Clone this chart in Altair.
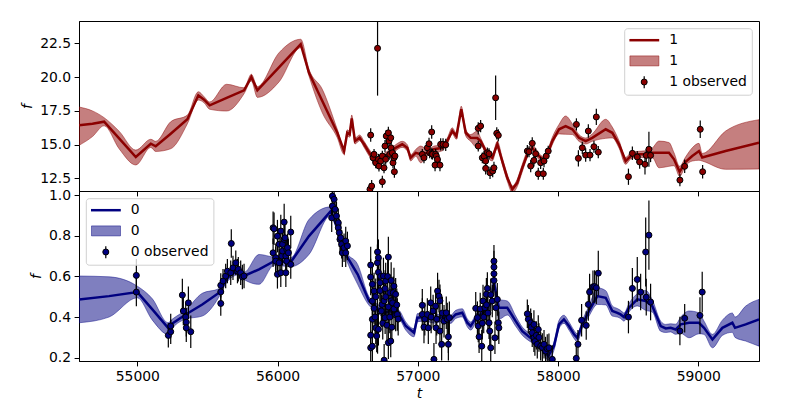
import altair as alt
import pandas as pd

# ---------------- data ----------------
X_DOMAIN = [54584, 59433]
X_TICKS = [55000, 56000, 57000, 58000, 59000]

TOP_DOMAIN = [11.575, 24.15]
TOP_TICKS = [12.5, 15.0, 17.5, 20.0, 22.5]
BOT_DOMAIN = [0.184, 1.02]
BOT_TICKS = [0.2, 0.4, 0.6, 0.8, 1.0]

# top (series "1") model curve
top_t = [54584, 54680, 54763, 54870, 54989, 55096, 55131, 55238, 55357, 55435,
         55476, 55516, 55637, 55761, 55813, 55856, 56010, 56165, 56224, 56319,
         56426, 56474, 56497, 56514, 56529, 56552, 56585, 56617, 56660, 56700,
         56760, 56800, 56842, 56889, 56925, 56949, 56985, 57021, 57068, 57115,
         57175, 57210, 57246, 57275, 57310, 57342, 57377, 57424, 57448, 57496,
         57531, 57567, 57602, 57638, 57674, 57709, 57745, 57781, 57816, 57852,
         57888, 57923, 57959, 58007, 58054, 58102, 58149, 58197, 58244, 58340,
         58387, 58435, 58482, 58518, 58565, 58625, 58672, 58720, 58791, 58827,
         58867, 58910, 58957, 59005, 59028, 59195, 59433]
top_mean = [16.43, 16.55, 16.70, 15.47, 14.09, 15.07, 14.88, 15.81, 16.88, 18.65,
            18.33, 17.91, 18.47, 19.02, 20.01, 19.02, 20.72, 22.43, 20.32, 18.23,
            15.88, 14.53, 15.88, 15.77, 16.95, 15.27, 15.51, 15.03, 14.30, 13.80,
            14.10, 14.40, 14.77, 15.03, 14.77, 14.03, 14.40, 14.29, 14.40, 14.66,
            14.77, 15.27, 16.01, 15.64, 17.62, 15.88, 15.51, 15.49, 15.27, 14.29,
            14.03, 15.03, 13.79, 12.55, 11.70, 12.18, 13.29, 14.29, 14.77, 14.29,
            13.92, 14.29, 15.27, 16.14, 16.38, 16.14, 15.51, 15.27, 15.51, 16.14,
            15.88, 15.03, 13.79, 14.16, 14.29, 14.29, 14.40, 14.40, 14.40, 13.92,
            12.99, 13.74, 14.16, 14.53, 14.06, 14.53, 15.14]
top_lo = [14.95, 15.60, 16.40, 14.70, 13.50, 14.80, 14.50, 14.70, 16.55, 18.30,
          18.10, 17.62, 17.49, 18.77, 19.71, 18.50, 19.64, 22.17, 20.08, 17.36,
          15.51, 14.29, 15.65, 15.55, 16.70, 15.05, 15.30, 14.80, 14.05, 13.55,
          13.85, 14.15, 14.55, 14.80, 14.55, 13.80, 14.15, 13.66, 14.15, 14.40,
          14.55, 15.05, 15.80, 15.40, 17.35, 15.65, 15.25, 14.77, 15.00, 14.05,
          13.80, 14.80, 13.55, 12.30, 11.45, 11.90, 13.00, 14.05, 14.55, 14.05,
          13.70, 14.05, 15.00, 15.80, 15.77, 15.75, 15.25, 15.05, 15.25, 15.47,
          15.50, 14.75, 13.55, 13.95, 14.05, 14.05, 14.05, 13.29, 13.40, 13.45,
          12.66, 13.45, 13.79, 13.85, 13.79, 13.18, 13.20]
top_hi = [17.79, 17.50, 17.00, 16.00, 14.60, 15.40, 15.25, 16.70, 17.19, 18.92,
          18.55, 18.16, 19.47, 19.21, 20.21, 19.30, 21.80, 22.80, 20.58, 19.10,
          16.14, 14.77, 16.10, 16.00, 17.20, 15.50, 15.72, 15.25, 14.55, 14.05,
          14.35, 14.65, 15.00, 15.25, 15.00, 14.25, 14.65, 14.90, 14.65, 14.90,
          15.00, 15.50, 16.25, 15.85, 17.85, 16.10, 15.75, 16.01, 15.50, 14.55,
          14.30, 15.25, 14.05, 12.80, 11.95, 12.45, 13.55, 14.55, 15.00, 14.55,
          14.15, 14.55, 15.55, 16.50, 17.12, 16.55, 15.75, 15.50, 15.80, 16.88,
          16.30, 15.30, 14.05, 14.40, 14.50, 14.55, 14.75, 15.27, 15.16, 14.40,
          13.40, 14.10, 14.77, 15.10, 14.35, 16.01, 16.85]

# top (series "1") observations
top_obs_t = [56659, 56664, 56671, 56681, 56688, 56700, 56713, 56719, 56723, 56735,
             56747, 56747, 56759, 56766, 56771, 56775, 56790, 56795, 56800, 56807,
             56809, 56818, 56823, 56830, 56833, 56837,
             57032, 57044, 57068, 57080, 57085, 57099, 57099, 57105, 57123, 57127,
             57132, 57140, 57158, 57163, 57180, 57199,
             57431, 57431, 57448, 57460, 57472, 57484, 57484, 57496, 57508, 57515,
             57534, 57543, 57555, 57563, 57574,
             57781, 57793, 57805, 57816, 57828, 57840, 57859, 57876, 57895, 57900,
             57916, 57930,
             58131, 58145, 58173, 58197, 58216, 58228, 58256, 58273, 58287,
             58502, 58530, 58565, 58582, 58620, 58629, 58648, 58660, 58869, 58903,
             59014, 59031]
top_obs_f = [11.70, 15.71, 11.94, 14.03, 14.29, 13.66, 22.13, 13.92, 13.42, 13.79,
             14.16, 12.26, 13.29, 14.90, 13.92, 15.64, 15.88, 15.27, 14.29, 15.51,
             14.77, 14.40, 13.66, 14.03, 13.00, 14.16,
             14.29, 14.03, 14.77, 15.07, 14.40, 15.94, 14.33, 14.30, 13.49, 14.29,
             14.16, 13.92, 13.49, 15.03, 15.03, 14.99,
             16.21, 14.90, 16.38, 14.03, 14.16, 13.79, 13.25, 14.40, 14.33, 12.92,
             13.05, 13.29, 18.47, 15.84, 15.69,
             14.53, 14.48, 13.42, 15.10, 13.84, 14.33, 12.85, 13.66, 12.85, 13.79,
             14.16, 14.53,
             16.50, 13.99, 14.77, 14.23, 16.01, 14.23, 14.85, 17.05, 14.45,
             12.63, 14.36, 14.09, 13.72, 13.55, 14.21, 14.66, 14.21, 12.38, 13.40,
             16.14, 13.00]
top_obs_err = [0.45, 0.50, 0.45, 0.40, 0.40, 0.40, 3.50, 0.40, 0.40, 0.40,
               0.40, 0.45, 0.40, 0.45, 0.40, 0.45, 0.45, 0.45, 0.40, 0.45,
               0.40, 0.40, 0.40, 0.40, 0.45, 0.40,
               0.40, 0.40, 0.45, 0.45, 0.40, 0.50, 0.40, 0.40, 0.45, 0.40,
               0.40, 0.40, 0.45, 0.45, 0.45, 0.45,
               0.45, 0.40, 0.45, 0.40, 0.40, 0.45, 0.45, 0.40, 0.40, 0.45,
               0.45, 0.45, 1.65, 0.45, 0.45,
               0.45, 0.40, 0.45, 0.45, 0.45, 0.40, 0.45, 0.45, 0.45, 0.45,
               0.40, 0.40,
               0.45, 0.60, 0.45, 0.50, 0.50, 0.45, 0.45, 0.60, 0.45,
               0.60, 0.50, 0.45, 0.50, 0.75, 0.45, 1.30, 0.50, 0.45, 0.50,
               0.65, 0.50]

# bottom (series "0") model curve
bot_t = [54584, 54798, 55000, 55107, 55219, 55250, 55345, 55463, 55583, 55630,
         55666, 55725, 55761, 55868, 55975, 56094, 56224, 56379, 56430, 56486,
         56571, 56652, 56700, 56760, 56800, 56866, 56914, 56973, 56997, 57050,
         57120, 57180, 57235, 57270, 57317, 57353, 57377, 57420, 57480, 57520,
         57543, 57578, 57638, 57698, 57745, 57800, 57850, 57888, 57930, 57971,
         58007, 58042, 58078, 58114, 58137, 58173, 58221, 58280, 58340, 58387,
         58423, 58446, 58470, 58506, 58565, 58625, 58672, 58732, 58768, 58803,
         58839, 58875, 58934, 59005, 59041, 59101, 59172, 59243, 59262, 59338,
         59433]
bot_mean = [0.487, 0.503, 0.523, 0.438, 0.347, 0.369, 0.413, 0.462, 0.520, 0.580,
            0.610, 0.626, 0.602, 0.635, 0.675, 0.670, 0.798, 0.921, 0.830, 0.708,
            0.610, 0.479, 0.450, 0.420, 0.430, 0.413, 0.356, 0.323, 0.397, 0.400,
            0.390, 0.400, 0.389, 0.413, 0.421, 0.372, 0.356, 0.400, 0.430, 0.470,
            0.569, 0.446, 0.446, 0.380, 0.331, 0.300, 0.280, 0.249, 0.208, 0.257,
            0.364, 0.389, 0.356, 0.315, 0.298, 0.364, 0.430, 0.503, 0.495, 0.430,
            0.421, 0.413, 0.400, 0.446, 0.487, 0.479, 0.454, 0.356, 0.344, 0.347,
            0.339, 0.364, 0.372, 0.372, 0.347, 0.290, 0.347, 0.372, 0.347, 0.364,
            0.389]
bot_lo = [0.372, 0.400, 0.495, 0.385, 0.315, 0.345, 0.390, 0.405, 0.500, 0.562,
          0.592, 0.608, 0.585, 0.561, 0.655, 0.648, 0.708, 0.900, 0.810, 0.690,
          0.561, 0.458, 0.430, 0.400, 0.410, 0.393, 0.336, 0.303, 0.377, 0.380,
          0.370, 0.380, 0.369, 0.393, 0.401, 0.352, 0.336, 0.380, 0.410, 0.450,
          0.549, 0.389, 0.410, 0.355, 0.311, 0.280, 0.260, 0.229, 0.188, 0.237,
          0.344, 0.369, 0.336, 0.295, 0.278, 0.344, 0.405, 0.462, 0.460, 0.405,
          0.400, 0.393, 0.380, 0.425, 0.455, 0.433, 0.425, 0.330, 0.324, 0.327,
          0.315, 0.320, 0.298, 0.318, 0.315, 0.249, 0.310, 0.325, 0.300, 0.282,
          0.257]
bot_hi = [0.602, 0.598, 0.552, 0.490, 0.372, 0.390, 0.435, 0.517, 0.540, 0.598,
          0.628, 0.644, 0.620, 0.708, 0.695, 0.692, 0.880, 0.942, 0.850, 0.726,
          0.659, 0.500, 0.470, 0.440, 0.450, 0.433, 0.376, 0.343, 0.417, 0.420,
          0.410, 0.420, 0.409, 0.433, 0.441, 0.392, 0.376, 0.420, 0.450, 0.490,
          0.589, 0.487, 0.479, 0.405, 0.351, 0.320, 0.300, 0.269, 0.228, 0.277,
          0.384, 0.409, 0.376, 0.335, 0.318, 0.384, 0.455, 0.544, 0.530, 0.455,
          0.442, 0.433, 0.420, 0.467, 0.515, 0.531, 0.485, 0.380, 0.364, 0.367,
          0.365, 0.400, 0.430, 0.421, 0.380, 0.315, 0.385, 0.420, 0.400, 0.454,
          0.487]

# bottom (series "0") observations
bot_obs_t = [54993, 54993, 55221, 55238, 55238, 55321, 55328, 55345, 55349, 55349,
             55364, 55381, 55595, 55595, 55595, 55611, 55630, 55642, 55666, 55670,
             55682, 55702, 55714, 55720, 55737, 55749, 55761,
             55968, 55968, 55975, 55987, 55987, 55999, 55999, 56011, 56011, 56023,
             56023, 56030, 56035, 56035, 56047, 56047, 56053, 56059, 56059, 56065,
             56065, 56071, 56077, 56094, 56094,
             56386, 56391, 56391, 56403, 56410, 56420, 56433, 56433, 56440, 56445,
             56450, 56457, 56462, 56474, 56486, 56486, 56498,
             56664, 56664, 56664, 56664, 56676, 56676, 56676, 56676, 56688, 56688,
             56695, 56700, 56700, 56707, 56713, 56712, 56719, 56719, 56719, 56731,
             56731, 56735, 56740, 56745, 56750, 56755, 56760, 56760, 56767, 56767,
             56771, 56771, 56780, 56785, 56790, 56790, 56790, 56800, 56800, 56807,
             56810, 56810, 56815, 56820, 56825, 56830, 56830, 56842, 56842, 56850,
             56854, 56860,
             57032, 57032, 57044, 57050, 57068, 57075, 57092, 57095, 57109, 57115,
             57127, 57130, 57135, 57141, 57151, 57158, 57158, 57170, 57175, 57187,
             57203, 57210, 57218, 57218, 57225,
             57413, 57425, 57431, 57437, 57445, 57456, 57460, 57465, 57470, 57479,
             57489, 57490, 57496, 57500, 57508, 57513, 57520, 57520, 57531, 57543,
             57543, 57543, 57543, 57550, 57557, 57567, 57574, 57578,
             57781, 57788, 57805, 57810, 57816, 57828, 57828, 57835, 57845, 57852,
             57859, 57864, 57876, 57888, 57900, 57911, 57923, 57935, 57959,
             58130, 58142, 58168, 58201, 58216, 58225, 58249, 58261, 58273, 58287,
             58502, 58530, 58565, 58589, 58625, 58629, 58648, 58660,
             58869, 58903, 59012, 59028]
bot_obs_f = [0.605, 0.523, 0.310, 0.328, 0.356, 0.508, 0.430, 0.400, 0.375, 0.347,
             0.470, 0.328, 0.556, 0.524, 0.467, 0.577, 0.602, 0.626, 0.618, 0.762,
             0.642, 0.667, 0.626, 0.635, 0.618, 0.597, 0.602,
             0.839, 0.716, 0.834, 0.692, 0.675, 0.798, 0.610, 0.667, 0.758, 0.823,
             0.618, 0.700, 0.758, 0.725, 0.782, 0.867, 0.790, 0.700, 0.618, 0.733,
             0.675, 0.741, 0.716, 0.818, 0.659,
             0.888, 0.995, 0.946, 0.979, 0.930, 0.897, 0.864, 0.839, 0.815, 0.782,
             0.790, 0.758, 0.716, 0.741, 0.774, 0.716, 0.750,
             0.656, 0.597, 0.311, 0.249, 0.561, 0.479, 0.389, 0.257, 0.528, 0.443,
             0.400, 0.347, 0.500, 0.307, 0.720, 0.667, 0.620, 0.692, 0.340, 0.569,
             0.530, 0.600, 0.430, 0.462, 0.370, 0.602, 0.188, 0.480, 0.397, 0.540,
             0.577, 0.500, 0.360, 0.600, 0.695, 0.450, 0.274, 0.520, 0.400, 0.282,
             0.480, 0.580, 0.350, 0.470, 0.520, 0.552, 0.440, 0.512, 0.410, 0.460,
             0.413, 0.390,
             0.458, 0.413, 0.351, 0.390, 0.413, 0.347, 0.470, 0.400, 0.430, 0.192,
             0.454, 0.347, 0.390, 0.528, 0.503, 0.480, 0.331, 0.266, 0.420, 0.380,
             0.421, 0.390, 0.303, 0.266, 0.397,
             0.443, 0.397, 0.356, 0.303, 0.440, 0.257, 0.370, 0.479, 0.400, 0.446,
             0.512, 0.460, 0.541, 0.420, 0.372, 0.331, 0.249, 0.510, 0.479, 0.675,
             0.646, 0.613, 0.580, 0.298, 0.446, 0.487, 0.372, 0.347,
             0.416, 0.389, 0.372, 0.350, 0.323, 0.364, 0.298, 0.280, 0.310, 0.266,
             0.339, 0.300, 0.257, 0.250, 0.266, 0.233, 0.245, 0.249, 0.192,
             0.197, 0.266, 0.384, 0.359, 0.462, 0.523, 0.549, 0.550, 0.544, 0.616,
             0.400, 0.541, 0.585, 0.523, 0.720, 0.498, 0.803, 0.474,
             0.331, 0.394, 0.408, 0.523]
bot_obs_err = [0.08, 0.07, 0.06, 0.06, 0.06, 0.08, 0.07, 0.07, 0.07, 0.07,
               0.08, 0.08, 0.06, 0.06, 0.06, 0.06, 0.06, 0.06, 0.06, 0.07,
               0.06, 0.06, 0.06, 0.06, 0.06, 0.06, 0.06,
               0.08, 0.07, 0.08, 0.07, 0.07, 0.08, 0.07, 0.07, 0.08, 0.08,
               0.07, 0.07, 0.08, 0.07, 0.08, 0.09, 0.08, 0.07, 0.07, 0.07,
               0.07, 0.07, 0.07, 0.08, 0.07,
               0.07, 0.08, 0.07, 0.07, 0.07, 0.07, 0.07, 0.07, 0.07, 0.07,
               0.07, 0.07, 0.07, 0.07, 0.07, 0.07, 0.07,
               0.09, 0.09, 0.08, 0.08, 0.09, 0.09, 0.08, 0.08, 0.09, 0.08,
               0.08, 0.08, 0.09, 0.08, 0.50, 0.09, 0.09, 0.09, 0.08, 0.09,
               0.09, 0.09, 0.08, 0.08, 0.08, 0.09, 0.08, 0.09, 0.08, 0.09,
               0.09, 0.09, 0.08, 0.09, 0.10, 0.08, 0.08, 0.09, 0.08, 0.08,
               0.08, 0.09, 0.08, 0.08, 0.08, 0.09, 0.08, 0.08, 0.08, 0.08,
               0.08, 0.08,
               0.08, 0.08, 0.08, 0.08, 0.08, 0.08, 0.08, 0.08, 0.08, 0.08,
               0.08, 0.08, 0.08, 0.09, 0.08, 0.08, 0.08, 0.08, 0.08, 0.08,
               0.08, 0.08, 0.08, 0.08, 0.08,
               0.08, 0.08, 0.08, 0.08, 0.08, 0.08, 0.08, 0.08, 0.08, 0.08,
               0.08, 0.08, 0.08, 0.08, 0.08, 0.08, 0.08, 0.08, 0.08, 0.08,
               0.08, 0.08, 0.08, 0.08, 0.08, 0.08, 0.08, 0.08,
               0.07, 0.07, 0.07, 0.07, 0.07, 0.07, 0.07, 0.07, 0.07, 0.07,
               0.07, 0.07, 0.07, 0.07, 0.07, 0.07, 0.07, 0.07, 0.07,
               0.06, 0.07, 0.08, 0.07, 0.08, 0.09, 0.08, 0.08, 0.08, 0.11,
               0.08, 0.10, 0.11, 0.09, 0.17, 0.09, 0.17, 0.09,
               0.07, 0.07, 0.09, 0.10]

# ---------------- chart ----------------
FONT = "DejaVu Sans"
FS = 13.9
RED = "#8b0000"
BLUE = "#000080"

xscale = alt.Scale(domain=X_DOMAIN, nice=False, zero=False)


def make_panel(t, mean, lo, hi, ot, of, oe, color, ydom, yticks, xlabels,
               label, legend_pos):
    curve = pd.DataFrame({"t": t, "mean": mean, "lo": lo, "hi": hi})
    obs = pd.DataFrame({"t": ot, "f": of, "err": oe})
    obs["flo"] = obs["f"] - obs["err"]
    obs["fhi"] = obs["f"] + obs["err"]

    if xlabels:
        xaxis = alt.Axis(values=X_TICKS, format="d", title="t")
    else:
        xaxis = alt.Axis(values=X_TICKS, labels=False, title=None)
    yscale = alt.Scale(domain=ydom, nice=False, zero=False)
    yaxis = alt.Axis(values=yticks, format=".1f", title="f")

    X = alt.X("t:Q", scale=xscale, axis=xaxis)

    band = alt.Chart(curve).mark_area(
        fill=color, fillOpacity=0.5, stroke=color, strokeOpacity=0.45,
        strokeWidth=1, clip=True, interpolate="monotone"
    ).encode(x=X, y=alt.Y("lo:Q", scale=yscale, axis=yaxis), y2="hi:Q")

    line = alt.Chart(curve).mark_line(
        color=color, strokeWidth=2.5, clip=True
    ).encode(x=X, y=alt.Y("mean:Q", scale=yscale, axis=yaxis))

    ebar = alt.Chart(obs).mark_rule(
        color="black", strokeWidth=1.2, clip=True
    ).encode(x=X, y=alt.Y("flo:Q", scale=yscale, axis=yaxis), y2="fhi:Q")

    pts = alt.Chart(obs).mark_circle(
        fill=color, stroke="black", strokeWidth=1, size=36, opacity=1, clip=True
    ).encode(x=X, y=alt.Y("f:Q", scale=yscale, axis=yaxis))

    # legend (drawn in pixel space of the panel)
    bx0, by0 = legend_pos
    one = pd.DataFrame({"k": [0]})
    leg = [
        alt.Chart(one).mark_rect(
            fill="white", fillOpacity=0.8, stroke="#d0d0d0", strokeWidth=1,
            cornerRadius=3
        ).encode(x=alt.value(bx0), x2=alt.value(bx0 + 127.6),
                 y=alt.value(by0), y2=alt.value(by0 + 66.5)),
        alt.Chart(one).mark_rule(color=color, strokeWidth=2.5).encode(
            x=alt.value(bx0 + 4.7), x2=alt.value(bx0 + 34.5),
            y=alt.value(by0 + 11.5)),
        alt.Chart(one).mark_rect(
            fill=color, fillOpacity=0.5, stroke=color, strokeOpacity=0.45,
            strokeWidth=1
        ).encode(x=alt.value(bx0 + 5.2), x2=alt.value(bx0 + 34.2),
                 y=alt.value(by0 + 27.2), y2=alt.value(by0 + 37.2)),
        alt.Chart(one).mark_rule(color="black", strokeWidth=1.2).encode(
            x=alt.value(bx0 + 19.5), y=alt.value(by0 + 47.5),
            y2=alt.value(by0 + 59.5)),
        alt.Chart(one).mark_circle(
            fill=color, stroke="black", strokeWidth=1, size=36, opacity=1
        ).encode(x=alt.value(bx0 + 19.5), y=alt.value(by0 + 53.3)),
    ]
    for dy, txt in [(11.5, label), (32.2, label), (53.3, label + " observed")]:
        leg.append(
            alt.Chart(one).mark_text(
                text=txt, align="left", baseline="middle", font=FONT,
                fontSize=FS, color="black"
            ).encode(x=alt.value(bx0 + 44.5), y=alt.value(by0 + dy))
        )

    return alt.layer(band, line, ebar, pts, *leg).properties(
        width=680, height=170
    )


top = make_panel(top_t, top_mean, top_lo, top_hi, top_obs_t, top_obs_f,
                 top_obs_err, RED, TOP_DOMAIN, TOP_TICKS, False, "1",
                 (545.7, 7.7))
bottom = make_panel(bot_t, bot_mean, bot_lo, bot_hi, bot_obs_t, bot_obs_f,
                    bot_obs_err, BLUE, BOT_DOMAIN, BOT_TICKS, True, "0",
                    (7.3, 7.7))

chart = alt.vconcat(top, bottom, spacing=0, bounds="flush").properties(
    padding={"left": 12, "top": 12, "right": 5, "bottom": 5},
    background="white",
).configure_axis(
    domainColor="black", domainWidth=1, tickColor="black", tickWidth=1,
    tickSize=4.9, labelColor="black", labelFont=FONT, labelFontSize=FS,
    labelPadding=3.5, titleFont=FONT, titleFontSize=FS,
    titleFontStyle="italic", titleFontWeight="normal", titleColor="black",
    grid=False,
).configure_axisY(titlePadding=5).configure_axisX(titlePadding=3).configure_view(
    stroke="black", strokeWidth=1
)

chart.save("out.html", embed_options={"renderer": "svg", "actions": False})
